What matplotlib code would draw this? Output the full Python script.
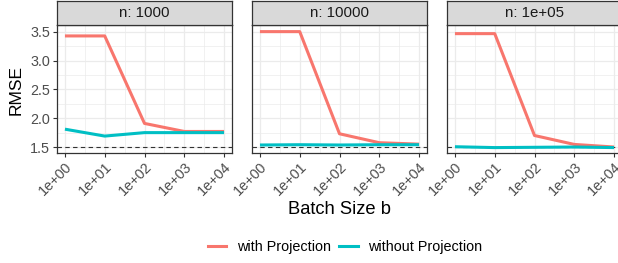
import numpy as np
import matplotlib.pyplot as plt
from matplotlib.ticker import FixedLocator, NullFormatter

plt.rcParams['font.family'] = ['Liberation Sans', 'DejaVu Sans']

batch = [1, 10, 100, 1000, 10000]
batch_labels = ["1e+00", "1e+01", "1e+02", "1e+03", "1e+04"]
panels = ["n: 1000", "n: 10000", "n: 1e+05"]

with_proj = [
    [3.43, 3.43, 1.91, 1.77, 1.77],
    [3.505, 3.505, 1.73, 1.575, 1.55],
    [3.47, 3.47, 1.70, 1.545, 1.50],
]
without_proj = [
    [1.81, 1.69, 1.75, 1.75, 1.75],
    [1.535, 1.54, 1.535, 1.54, 1.54],
    [1.505, 1.49, 1.495, 1.50, 1.49],
]
ref_line = 1.5

RED = '#F8766D'
TEAL = '#00BFC4'
W, H = 618, 263

fig = plt.figure(figsize=(W / 100, H / 100), dpi=100)

lefts = [57, 252, 447]
pw = 175
top, bot = 25, 153

for i, name in enumerate(panels):
    ax = fig.add_axes([lefts[i] / W, 1 - bot / H, pw / W, (bot - top) / H])
    ax.set_xscale('log')
    ax.set_xlim(10 ** -0.2, 10 ** 4.2)
    ax.set_ylim(1.396, 3.62)
    ax.set_facecolor('white')
    ax.xaxis.set_major_locator(FixedLocator(batch))
    ax.xaxis.set_minor_locator(FixedLocator([10 ** (k + 0.5) for k in range(-1, 5)]))
    ax.xaxis.set_minor_formatter(NullFormatter())
    ax.set_yticks([1.5, 2.0, 2.5, 3.0, 3.5])
    ax.set_yticks([1.75, 2.25, 2.75, 3.25], minor=True)
    ax.grid(True, which='major', color='#EBEBEB', lw=0.9)
    ax.grid(True, which='minor', color='#EBEBEB', lw=0.5)
    ax.set_axisbelow(True)
    ax.axhline(ref_line, color='#333333', lw=0.8, ls=(0, (4, 3)), zorder=2)
    ax.plot(batch, with_proj[i], color=RED, lw=2.2, zorder=3, solid_capstyle='butt')
    ax.plot(batch, without_proj[i], color=TEAL, lw=2.2, zorder=3, solid_capstyle='butt')
    for s in ax.spines.values():
        s.set_color('#333333')
        s.set_linewidth(0.9)
    ax.tick_params(which='minor', length=0)
    ax.tick_params(which='major', length=3, color='#333333', width=0.8,
                   labelsize=10.4, labelcolor='#4D4D4D', pad=2)
    ax.set_xticklabels(batch_labels, rotation=45, ha='right', va='top',
                       rotation_mode='anchor')
    if i == 0:
        ax.set_yticklabels(["1.5", "2.0", "2.5", "3.0", "3.5"])
    else:
        ax.tick_params(axis='y', length=0, labelleft=False)

    # strip
    sa = fig.add_axes([lefts[i] / W, 1 - top / H, pw / W, (top - 1) / H])
    sa.set_facecolor('#D9D9D9')
    sa.set_xticks([])
    sa.set_yticks([])
    for s in sa.spines.values():
        s.set_color('#333333')
        s.set_linewidth(0.9)
    sa.text(0.5, 0.5, name, ha='center', va='center', fontsize=10.8,
            color='#1A1A1A', transform=sa.transAxes)

fig.text(16.5 / W, 1 - 90 / H, "RMSE", rotation=90, ha='center', va='center', fontsize=12.5)
fig.text(339 / W, 1 - 209 / H, "Batch Size b", ha='center', va='center', fontsize=13.2)

handles = [plt.Line2D([], [], color=RED, lw=2.2), plt.Line2D([], [], color=TEAL, lw=2.2)]
fig.legend(handles, ["with Projection", "without Projection"], loc='center',
           bbox_to_anchor=(345 / W, 1 - 247 / H), ncol=2, frameon=False,
           fontsize=10.4, handlelength=1.3, handletextpad=0.7, columnspacing=0.6)

fig.savefig('out.png', dpi=100)
